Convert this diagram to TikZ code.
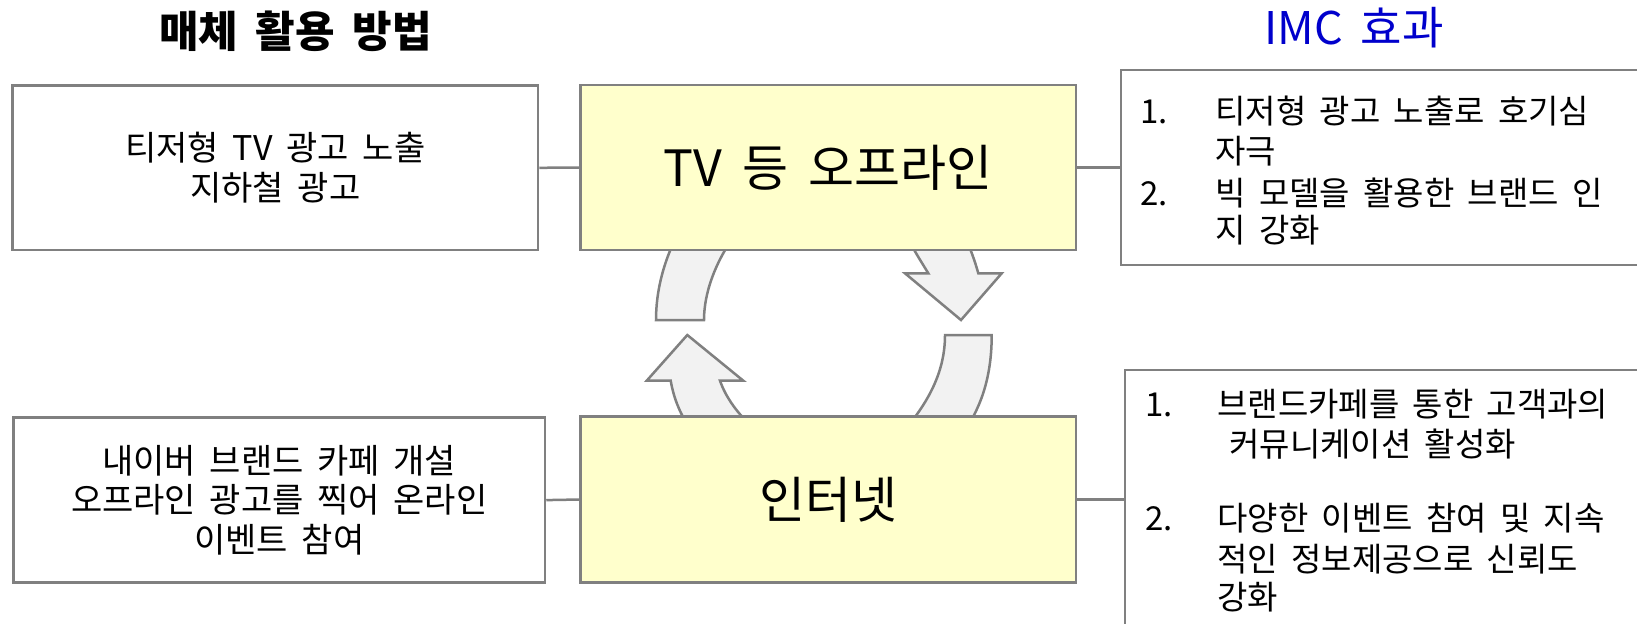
\documentclass[tikz,border=0pt]{standalone}
\usepackage{fontspec}
\setmainfont{Noto Sans CJK KR}[WordSpace=1.8]
\definecolor{boxgray}{RGB}{128,128,128}
\definecolor{yel}{RGB}{255,255,204}
\definecolor{arrfill}{RGB}{242,242,242}
\definecolor{imcblue}{RGB}{0,0,204}
\begin{document}
\begin{tikzpicture}[x=0.5pt,y=-0.5pt,
  box/.style={draw=boxgray,line width=1.25pt,fill=white,inner sep=0pt,align=center},
  ybox/.style={box,fill=yel,font=\fontsize{25pt}{30pt}\selectfont},
  arr/.style={draw=boxgray,line width=1.25pt,fill=arrfill,line join=miter},
  conn/.style={draw=boxgray,line width=1.25pt},
  lt/.style={font=\fontsize{17pt}{19.8pt}\selectfont},
  rt/.style={font=\fontsize{16.5pt}{20pt}\selectfont,anchor=base west,inner sep=0pt},
  ttl/.style={font=\fontsize{22.5pt}{26pt}\selectfont,anchor=base,inner sep=0pt},
]
\clip (0,0) rectangle (1637,623);
\fill[white] (0,0) rectangle (1637,623);

% circular arrows
\path[arr] (675.7,238) .. controls (664,262) and (656,290) .. (656,320)
  -- (704,320) .. controls (704,292) and (716,262) .. (732.8,238) -- cycle;
\path[arr] (690.6,430) .. controls (681,415) and (674,400) .. (670.7,380.7)
  -- (646.7,380.7) -- (687.3,335) -- (743.3,380.7)
  -- (720,380.7) .. controls (726,398) and (738,414) .. (755,430) -- cycle;
\path[arr] (907.5,238) .. controls (915,252) and (922,263) .. (928.3,273.3)
  -- (905,273.3) -- (961,320) -- (1001.7,273.3)
  -- (978.3,273.3) .. controls (974,258) and (970,248) .. (965.3,238) -- cycle;
\path[arr] (945,335) .. controls (945,370) and (930,400) .. (904.7,430)
  -- (965.1,430) .. controls (982,405) and (991.7,375) .. (991.7,335) -- cycle;

% boxes
\node[box,lt,minimum width=262.7pt,minimum height=82.2pt] (tlbox) at (275.3,167.8)
  {티저형 TV 광고 노출\\지하철 광고};
\node[ybox,minimum width=247.65pt,minimum height=82.5pt] (tv) at (828.3,167.5)
  {TV 등 오프라인};
\node[box,minimum width=269.5pt,minimum height=97.5pt] (trbox) at (1390.5,167.5) {};
\node[box,lt,minimum width=265.7pt,minimum height=82.5pt] (blbox) at (279.3,500.1)
  {내이버 브랜드 카페 개설\\오프라인 광고를 찍어 온라인\\이벤트 참여};
\node[ybox,minimum width=247.65pt,minimum height=83pt] (net) at (828.3,499.5)
  {인터넷};
\node[box,minimum width=267.5pt,minimum height=145pt] (brbox) at (1392.5,515) {};

% connectors
\draw[conn] (tlbox.east) -- (tv.west);
\draw[conn] (tv.east) -- (trbox.west);
\draw[conn] (blbox.east) -- (net.west);
\draw[conn] (net.east) -- (net.east -| brbox.west);

% titles
\node[ttl,font=\fontsize{21.5pt}{26pt}\selectfont\bfseries] (t1) at (295.5,47) {매체 활용 방법};
\node[ttl,text=imcblue] (t2) at (1354,44) {IMC 효과};

% right top list
\node[rt] (tr1n) at (1140,123.2) {1.};
\node[rt] (tr1a) at (1215,123.2) {티저형 광고 노출로 호기심};
\node[rt] (tr1b) at (1215,163.9) {자극};
\node[rt] (tr2n) at (1140,205.6) {2.};
\node[rt] (tr2a) at (1215,205.6) {빅 모델을 활용한 브랜드 인};
\node[rt] (tr2b) at (1215,242.2) {지 강화};

% right bottom list
\node[rt] (br1n) at (1145,416.5) {1.};
\node[rt] (br1a) at (1217,416.5) {브랜드카페를 통한 고객과의};
\node[rt] (br1b) at (1229,456.2) {커뮤니케이션 활성화};
\node[rt] (br2n) at (1145,530.3) {2.};
\node[rt] (br2a) at (1217,530.3) {다양한 이벤트 참여 및 지속};
\node[rt] (br2b) at (1217,571) {적인 정보제공으로 신뢰도};
\node[rt] (br2c) at (1217,609.7) {강화};
\end{tikzpicture}
\end{document}
